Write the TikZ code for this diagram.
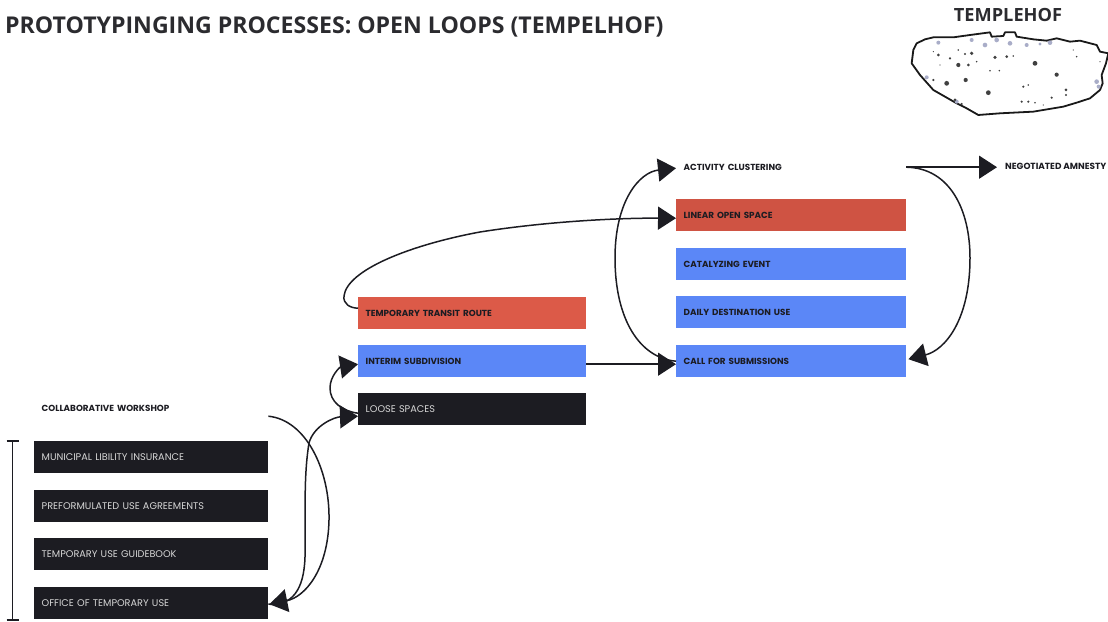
\documentclass[tikz,border=0pt]{standalone}
\usepackage{fontspec}
\setmainfont{Poppins}
\newfontfamily\titlefont{Open Sans}
\usetikzlibrary{arrows.meta}
\definecolor{inkdark}{HTML}{1C1C22}
\definecolor{barblue}{HTML}{5B87F7}
\definecolor{barred}{HTML}{DC5A48}
\definecolor{barred2}{HTML}{CF5343}
\definecolor{lighttext}{HTML}{D6D6D6}
\definecolor{titleink}{HTML}{2B2B2F}
\definecolor{mapsmudge}{HTML}{A9ADC8}
\tikzset{
  stage/.style={anchor=north west,minimum height=32pt,inner xsep=7.5pt,inner ysep=0pt,align=left,font=\fontsize{8.8}{10}\selectfont\bfseries,text=inkdark},
  leftcol/.style={text width=219pt},
  midcol/.style={text width=213pt},
  rightcol/.style={text width=215pt},
  darkstage/.style={stage,fill=inkdark,text=lighttext,font=\fontsize{9.7}{11}\selectfont},
  bluestage/.style={stage,fill=barblue},
  redstage/.style={stage,fill=barred},
  flow/.style={draw=inkdark,line width=1.5pt,-{Triangle[length=18pt,width=23pt]}},
  plain/.style={draw=inkdark,line width=1.1pt},
}
\begin{document}
\begin{tikzpicture}[x=1pt,y=-1pt]
\useasboundingbox (0,0) rectangle (1108,621);
% titles
\node[anchor=west,inner sep=0pt,font=\titlefont\fontsize{23.1}{26}\selectfont\bfseries,text=titleink] (title) at (5,27) {PROTOTYPINGING PROCESSES: OPEN LOOPS (TEMPELHOF)};
\node[anchor=center,inner sep=0pt,font=\titlefont\fontsize{18.2}{20}\selectfont\bfseries,text=titleink] (maptitle) at (1008,15) {TEMPLEHOF};
% map
\begin{scope}[shift={(900,0)},x=0.3333pt,y=-0.3333pt]
\draw[line width=1.8pt,draw=black!90,fill=white,line join=round]
 (50,130) -- (75,118) -- (100,112) -- (160,112) -- (210,105) -- (270,97) -- (275,110) -- (310,108) -- (315,97) -- (345,97) -- (350,110) -- (400,118) -- (440,122) -- (470,115) -- (510,125) -- (540,122) -- (590,135) -- (600,155) -- (625,160) -- (618,190) -- (605,225) -- (608,250) -- (600,270) -- (570,295) -- (530,308) -- (490,320) -- (400,335) -- (300,340) -- (235,345) -- (200,325) -- (170,310) -- (100,270) -- (60,225) -- (35,190) -- (40,150) -- cycle;
\foreach \px/\py/\pr in {115/128/6,255/135/7,215/120/6,290/120/7,330/130/7,380/135/6,450/128/7,420/132/5,590/245/7,596/260/6,80/232/6,170/305/6}
  \fill[mapsmudge] (\px,\py) circle[radius=\pr];
\foreach \px/\py/\pr in {115/165/5,150/175/4,175/150/3,195/162/4,215/160/6,175/195/7,205/195/5,230/185/3,285/172/6,320/170/5,340/168/3,405/190/8,530/170/3,270/212/3,298/212/3,140/250/8,197/240/7,100/240/4,265/278/8,370/260/4,385/255/3,470/224/7,498/270/5,498/285/4,455/293/4,365/305/4,385/305/4,405/308/3,430/315/2,165/300/5,185/312/4,520/150/2,600/185/2,120/195/2,100/155/2}
  \fill[black!75] (\px,\py) circle[radius=\pr*0.9];
\end{scope}
% left column
\node[stage,leftcol] (ws) at (34,392) {COLLABORATIVE WORKSHOP};
\node[darkstage,leftcol] (ins) at (34,441) {MUNICIPAL LIBILITY INSURANCE};
\node[darkstage,leftcol] (agr) at (34,490) {PREFORMULATED USE AGREEMENTS};
\node[darkstage,leftcol] (gui) at (34,538) {TEMPORARY USE GUIDEBOOK};
\node[darkstage,leftcol] (off) at (34,587) {OFFICE OF TEMPORARY USE};
% middle column
\node[redstage,midcol] (route) at (358,297) {TEMPORARY TRANSIT ROUTE};
\node[bluestage,midcol] (sub) at (358,345) {INTERIM SUBDIVISION};
\node[darkstage,midcol] (loose) at (358,393) {LOOSE SPACES};
% right column
\node[stage,rightcol] (act) at (676,151) {ACTIVITY CLUSTERING};
\node[stage,rightcol,fill=barred2] (lin) at (676,199) {LINEAR OPEN SPACE};
\node[bluestage,rightcol] (cat) at (676,248) {CATALYZING EVENT};
\node[bluestage,rightcol] (day) at (676,296) {DAILY DESTINATION USE};
\node[bluestage,rightcol] (call) at (676,345) {CALL FOR SUBMISSIONS};
\node[anchor=west,inner sep=0pt,font=\fontsize{8.9}{10}\selectfont\bfseries,text=inkdark] (amn) at (1005,166) {NEGOTIATED AMNESTY};
% scale bar
\coordinate (bartop) at (12.5,441);
\coordinate (barbot) at (12.5,620);
\draw[plain] (bartop) -- (barbot);
\draw[plain] ([xshift=-6pt]bartop) -- ([xshift=6pt]bartop);
\draw[plain] ([xshift=-6pt]barbot) -- ([xshift=6pt]barbot);
% connectors
\draw[flow] ([yshift=-8pt]ws.east) .. controls (306,420) and (330,470) .. (329,520) .. controls (328,570) and (305,597) .. ([yshift=-1pt,xshift=1pt]off.east);
\draw[flow] ([yshift=-1pt]off.east) .. controls (292,606) and (304,590) .. (305,557) .. controls (306,520) and (303,480) .. (309,443) .. controls (314,425) and (335,417) .. ([yshift=-7pt]loose.west);
\draw[flow] ([yshift=-4pt]loose.west) .. controls (342,411) and (330,402) .. (330,388) .. controls (330,376) and (340,367) .. ([yshift=-3pt]sub.west);
\draw[flow] ([yshift=5pt]route.west) .. controls (350,308) and (343,304) .. (344,296) .. controls (347,270) and (410,245) .. (480,232) .. controls (550,221) and (620,218) .. ([yshift=-3pt]lin.west);
\draw[flow] ([yshift=-3pt]sub.east) -- ([yshift=-3pt]sub.east -| call.west);
\draw[flow] (call.west) .. controls (640,358) and (615,320) .. (615,258) .. controls (615,200) and (640,172) .. ([yshift=-1pt]act.west);
\draw[flow] (act.east) -- ([xshift=-8pt]act.east -| amn.west);
\draw[flow] (act.east) .. controls (950,168) and (970,210) .. (970,258) .. controls (970,320) and (945,350) .. ([xshift=2pt,yshift=2pt]call.east);
\end{tikzpicture}
\end{document}
